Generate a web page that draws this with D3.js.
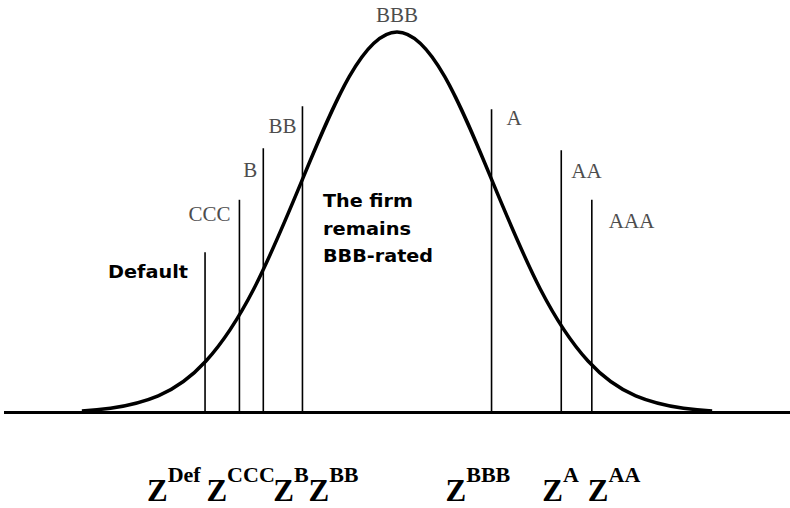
<!DOCTYPE html>
<html>
<head>
<meta charset="utf-8">
<script src="https://cdn.jsdelivr.net/npm/d3@7"></script>
<style>
  body { margin: 0; background: #fff; }
  svg { display: block; }
</style>
</head>
<body>
<div id="chart"></div>
<script>
// standardised asset return z
const curveZ = [-3.3, -3.0, -2.5, -2.0, -1.5, -1.0, -0.5, 0, 0.5, 1.0, 1.5, 2.0, 2.5, 3.0, 3.3];
const curveDensity = [0.0017, 0.0044, 0.0175, 0.054, 0.1295, 0.242, 0.3521, 0.3989,
                      0.3521, 0.242, 0.1295, 0.054, 0.0175, 0.0044, 0.0017];

// rating thresholds (vertical lines), left to right
const lineLabels = ["Default", "CCC", "B", "BB", "A", "AA", "AAA"];
const thresholds = [-2.01, -1.65, -1.40, -0.99, 0.99, 1.72, 2.04];
const markerHeights = [0.168, 0.223, 0.277, 0.321, 0.318, 0.275, 0.223];
const zNames = ["Def", "CCC", "B", "BB", "BBB", "A", "AA"];

const peakLabel = "BBB";
const middleNote = ["The firm", "remains", "BBB-rated"];

// layout nudges for the labels
const labelDx = [null, -9, -6, -6, 15, 10, 17];
const labelDy = [null, 21, 29, 27, 16, 28, 28];
const zDx = [-58, -33, 10, 6, -46, -19, -4];

const width = 790, height = 508;
const baseY = 412.5;

const x = d3.scaleLinear().domain([-1, 1]).range([397 - 95.5, 397 + 95.5]);
const y = d3.scaleLinear().domain([0, 0.3989]).range([baseY, 32]);

const svg = d3.select("#chart").append("svg")
    .attr("width", width)
    .attr("height", height)
    .attr("viewBox", "0 0 " + width + " " + height);

// baseline
svg.append("line")
    .attr("x1", 4).attr("x2", width)
    .attr("y1", baseY).attr("y2", baseY)
    .attr("stroke", "#000")
    .attr("stroke-width", 3);

// threshold lines
svg.append("g").selectAll("line")
    .data(thresholds)
    .enter().append("line")
    .attr("x1", d => x(d)).attr("x2", d => x(d))
    .attr("y1", y(0))
    .attr("y2", (d, i) => y(markerHeights[i]))
    .attr("stroke", "#000")
    .attr("stroke-width", 1.6);

// the bell curve
const pts = curveZ.map((z, i) => [z, curveDensity[i]]);
svg.append("path")
    .datum(pts)
    .attr("fill", "none")
    .attr("stroke", "#000")
    .attr("stroke-width", 3.5)
    .attr("stroke-linejoin", "round")
    .attr("d", d3.line()
        .x(d => x(d[0]))
        .y(d => y(d[1]))
        .curve(d3.curveNatural));

// rating labels above the lines (grey serif)
const serifFont = "Liberation Serif";
svg.append("text")
    .attr("x", x(0))
    .attr("y", 22)
    .attr("text-anchor", "middle")
    .attr("font-family", serifFont)
    .attr("font-size", 21)
    .attr("fill", "#4d4d4d")
    .text(peakLabel);

svg.append("g").selectAll("text")
    .data(lineLabels.map((l, i) => ({label: l, i: i})).filter(d => d.i > 0))
    .enter().append("text")
    .attr("x", d => x(thresholds[d.i]) + labelDx[d.i])
    .attr("y", d => y(markerHeights[d.i]) + labelDy[d.i])
    .attr("text-anchor", d => thresholds[d.i] < 0 ? "end" : "start")
    .attr("font-family", serifFont)
    .attr("font-size", 21)
    .attr("fill", "#4d4d4d")
    .text(d => d.label);

// bold notes
const boldFont = "DejaVu Sans";
svg.append("text")
    .attr("x", 108)
    .attr("y", 278)
    .attr("font-family", boldFont)
    .attr("font-weight", "bold")
    .attr("font-size", 17)
    .attr("textLength", 80)
    .attr("lengthAdjust", "spacingAndGlyphs")
    .attr("fill", "#000")
    .text(lineLabels[0]);

const noteLens = [90, 88, 110];
svg.append("g").selectAll("text")
    .data(middleNote)
    .enter().append("text")
    .attr("x", 323)
    .attr("y", (d, i) => 207 + i * 27.5)
    .attr("font-family", boldFont)
    .attr("font-weight", "bold")
    .attr("font-size", 17)
    .attr("textLength", (d, i) => noteLens[i])
    .attr("lengthAdjust", "spacingAndGlyphs")
    .attr("fill", "#000")
    .text(d => d);

// Z threshold labels
const zText = svg.append("g").selectAll("text")
    .data(zNames)
    .enter().append("text")
    .attr("x", (d, i) => x(thresholds[i]) + zDx[i])
    .attr("y", 501)
    .attr("font-family", serifFont)
    .attr("font-weight", "bold")
    .attr("fill", "#000");

zText.append("tspan")
    .attr("font-size", 31)
    .text("Z");
zText.append("tspan")
    .attr("font-size", 22)
    .attr("dy", -19)
    .text(d => d);
</script>
</body>
</html>
